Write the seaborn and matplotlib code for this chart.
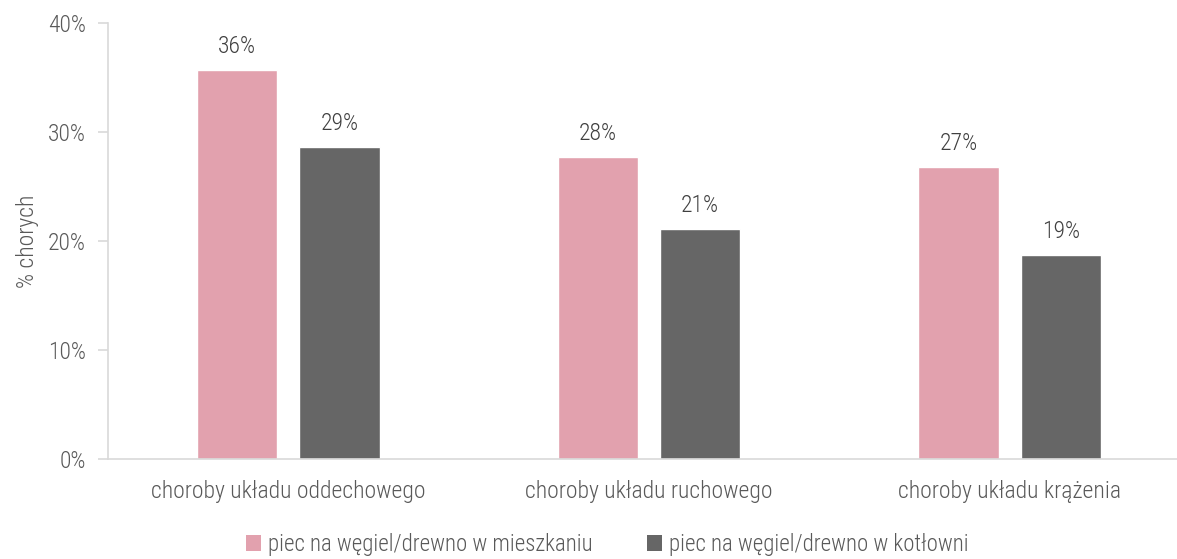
import matplotlib
matplotlib.use("Agg")
import matplotlib.pyplot as plt
import seaborn as sns
import pandas as pd
from matplotlib.patches import Patch

categories = ["choroby układu oddechowego", "choroby układu ruchowego", "choroby układu krążenia"]
series_names = ["piec na węgiel/drewno w mieszkaniu", "piec na węgiel/drewno w kotłowni"]
values_mieszkanie = [35.7, 27.7, 26.8]
values_kotlownia = [28.6, 21.1, 18.7]
value_labels_mieszkanie = ["36%", "28%", "27%"]
value_labels_kotlownia = ["29%", "21%", "19%"]
yticks = [0, 10, 20, 30, 40]
ytick_labels = ["0%", "10%", "20%", "30%", "40%"]
colors = ["#E2A1AE", "#666666"]

sns.set_theme(style="white")
plt.rcParams['font.family'] = ['Roboto Condensed Light', 'Roboto Condensed', 'Roboto', 'DejaVu Sans']
plt.rcParams['font.weight'] = 'light'

FS = 17
FS_LEG = 16.5

df = pd.DataFrame({
    "kategoria": categories * 2,
    "seria": [series_names[0]] * 3 + [series_names[1]] * 3,
    "wartosc": values_mieszkanie + values_kotlownia,
})

fig = plt.figure(figsize=(11.77, 5.59), dpi=100)
ax = fig.add_axes([108/1177, 1 - 459/559, 1 - 108/1177, (459 - 23)/559])

sns.barplot(data=df, x="kategoria", y="wartosc", hue="seria", palette=colors,
            width=0.567, gap=0.216, ax=ax, legend=False, saturation=1, errorbar=None)

labels_all = [value_labels_mieszkanie, value_labels_kotlownia]
for cont, labs in zip(ax.containers, labels_all):
    for bar, lab in zip(cont, labs):
        ax.annotate(lab, (bar.get_x() + bar.get_width()/2, bar.get_height()),
                    xytext=(0, 8.5), textcoords="offset points", ha="center", va="bottom",
                    fontsize=FS, color="#404040", fontweight="light")

ax.set_ylim(0, 40)
ax.set_xlim(-0.5, 2.5 - 13/360)
ax.set_yticks(yticks)
ax.set_yticklabels(ytick_labels)
ax.set_xlabel("")
ax.set_ylabel("% chorych", fontsize=FS, color="#595959", labelpad=6, fontweight="light")

for s in ["top", "right"]:
    ax.spines[s].set_visible(False)
for s in ["left", "bottom"]:
    ax.spines[s].set_color("#D9D9D9")
    ax.spines[s].set_linewidth(1.2)

ax.tick_params(axis="y", which="both", left=True, length=7, color="#D9D9D9", width=1.2,
               labelsize=FS, labelcolor="#595959", pad=9)
ax.tick_params(axis="x", which="both", bottom=False, length=0, labelsize=FS,
               labelcolor="#595959", pad=15)

handles = [Patch(facecolor=c, edgecolor="none") for c in colors]
fig.legend(handles, series_names, loc="lower center", bbox_to_anchor=(0.516, -0.032), ncol=2,
           frameon=False, fontsize=FS_LEG, labelcolor="#595959", handlelength=0.66,
           handleheight=0.66, handletextpad=0.28, columnspacing=2.4)

fig.savefig("out.png", dpi=100)
